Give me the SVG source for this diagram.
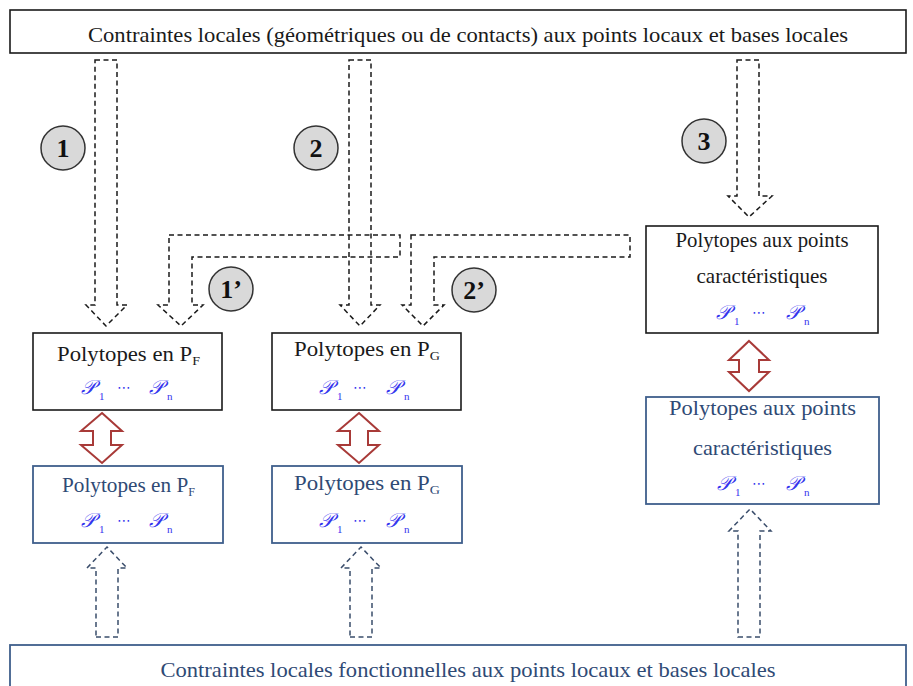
<svg xmlns="http://www.w3.org/2000/svg" width="913" height="686" viewBox="0 0 913 686">
<defs>
<style>
.serif{font-family:"Liberation Serif","DejaVu Serif",serif;}
.title{font-size:21px;fill:#1a1a1a;}
.btitle{font-size:21px;fill:#2f4a75;}
.math{font-family:"DejaVu Serif","DejaVu Sans","Noto Sans",serif;font-style:italic;font-size:20px;fill:#3535ee;}
.sub{font-family:"Liberation Serif",serif;font-size:11px;fill:#3535ee;}
.dots{font-family:"DejaVu Sans",sans-serif;font-size:14px;fill:#3535ee;}
.kbox{fill:#fff;stroke:#1a1a1a;stroke-width:1.6;}
.bbox{fill:#fff;stroke:#3f5f8c;stroke-width:1.8;}
.darr{fill:none;stroke:#1a1a1a;stroke-width:1.5;stroke-dasharray:5 3.5;stroke-linejoin:miter;}
.uarr{fill:none;stroke:#3a4d6b;stroke-width:1.5;stroke-dasharray:5 3.5;}
.rarr{fill:#fff;stroke:#a83a38;stroke-width:2;}
.circ{fill:#d9d9d9;stroke:#333;stroke-width:1.5;}
.num{font-family:"Liberation Serif",serif;font-weight:bold;font-size:26px;fill:#111;text-anchor:middle;}
</style>
</defs>

<g id="top-box">
<rect class="kbox" x="10" y="10" width="896" height="43"/>
<text class="serif title" x="468" y="42" text-anchor="middle" textLength="760" lengthAdjust="spacingAndGlyphs">Contraintes locales (géométriques ou de contacts) aux points locaux et bases locales</text>
</g>

<g id="connectors">
<polygon class="darr" points="95,60 117,60 117,305 127,305 106,326 86,305 95,305"/>
<polygon class="darr" points="169,235 400,235 400,257 192,257 192,305 203,305 181,326 158,305 169,305"/>
<polygon class="darr" points="349,60 371,60 371,305 380,305 360,326 340,305 349,305"/>
<polygon class="darr" points="411,235 630,235 630,257 434,257 434,305 444,305 423,326 402,305 411,305"/>
<polygon class="darr" points="737,60 759,60 759,196 772,196 749,217 728,196 737,196"/>
<polygon class="uarr" points="96,637 118,637 118,568 127,568 107,547 87,568 96,568"/>
<polygon class="uarr" points="350,637 372,637 372,568 381,568 361,547 341,568 350,568"/>
<polygon class="uarr" points="738,637 760,637 760,531 771,531 750,509 729,531 738,531"/>
<polygon class="rarr" points="102,413 122,431 111,431 111,445 122,445 102,463 81,445 93,445 93,431 81,431"/>
<polygon class="rarr" points="359,413 379,431 368,431 368,445 379,445 359,463 338,445 350,445 350,431 338,431"/>
<polygon class="rarr" points="749,341 769,360 759,360 759,372 769,372 749,391 729,372 739,372 739,360 729,360"/>
</g>

<g id="label-1"><circle class="circ" cx="63" cy="148" r="22"/><text class="num" x="63" y="157">1</text></g>
<g id="label-2"><circle class="circ" cx="316" cy="148" r="22"/><text class="num" x="316" y="157">2</text></g>
<g id="label-3"><circle class="circ" cx="704" cy="141" r="22"/><text class="num" x="704" y="150">3</text></g>
<g id="label-1p"><circle class="circ" cx="231" cy="289" r="22"/><text class="num" x="231" y="298">1’</text></g>
<g id="label-2p"><circle class="circ" cx="474" cy="290" r="22"/><text class="num" x="474" y="299">2’</text></g>

<g id="pf-black">
<rect class="kbox" x="33" y="333" width="189" height="77"/>
<text class="serif title" x="57" y="361" textLength="143" lengthAdjust="spacingAndGlyphs">Polytopes en P<tspan font-size="13" dy="4">F</tspan></text>
<text class="math" x="81" y="394">𝒫</text><text class="sub" x="99" y="400">1</text>
<text class="dots" x="117" y="392">⋯</text>
<text class="math" x="149" y="394">𝒫</text><text class="sub" x="167" y="400">n</text>
</g>

<g id="pg-black">
<rect class="kbox" x="272" y="333" width="189" height="77"/>
<text class="serif title" x="294" y="356" textLength="146" lengthAdjust="spacingAndGlyphs">Polytopes en P<tspan font-size="13" dy="4">G</tspan></text>
<text class="math" x="319" y="394">𝒫</text><text class="sub" x="337" y="400">1</text>
<text class="dots" x="353" y="392">⋯</text>
<text class="math" x="386" y="394">𝒫</text><text class="sub" x="404" y="400">n</text>
</g>

<g id="pc-black">
<rect class="kbox" x="646" y="226" width="232" height="107"/>
<text class="serif title" x="762" y="247" text-anchor="middle" textLength="173" lengthAdjust="spacingAndGlyphs">Polytopes aux points</text>
<text class="serif title" x="762" y="283" text-anchor="middle" textLength="131" lengthAdjust="spacingAndGlyphs">caractéristiques</text>
<text class="math" x="716" y="319">𝒫</text><text class="sub" x="734" y="325">1</text>
<text class="dots" x="752" y="317">⋯</text>
<text class="math" x="786" y="319">𝒫</text><text class="sub" x="804" y="325">n</text>
</g>

<g id="pf-blue">
<rect class="bbox" x="33" y="466" width="190" height="77"/>
<text class="serif btitle" x="62" y="492" textLength="133" lengthAdjust="spacingAndGlyphs">Polytopes en P<tspan font-size="12" dy="4">F</tspan></text>
<text class="math" x="81" y="527">𝒫</text><text class="sub" x="99" y="533">1</text>
<text class="dots" x="117" y="525">⋯</text>
<text class="math" x="149" y="527">𝒫</text><text class="sub" x="167" y="533">n</text>
</g>

<g id="pg-blue">
<rect class="bbox" x="272" y="466" width="190" height="77"/>
<text class="serif btitle" x="294" y="490" textLength="146" lengthAdjust="spacingAndGlyphs">Polytopes en P<tspan font-size="13" dy="4">G</tspan></text>
<text class="math" x="319" y="527">𝒫</text><text class="sub" x="337" y="533">1</text>
<text class="dots" x="353" y="525">⋯</text>
<text class="math" x="386" y="527">𝒫</text><text class="sub" x="404" y="533">n</text>
</g>

<g id="pc-blue">
<rect class="bbox" x="646" y="397" width="233" height="107"/>
<text class="serif btitle" x="762.5" y="415" text-anchor="middle" textLength="187" lengthAdjust="spacingAndGlyphs">Polytopes aux points</text>
<text class="serif btitle" x="762.5" y="455" text-anchor="middle" textLength="139" lengthAdjust="spacingAndGlyphs">caractéristiques</text>
<text class="math" x="717" y="490">𝒫</text><text class="sub" x="735" y="496">1</text>
<text class="dots" x="752" y="488">⋯</text>
<text class="math" x="786" y="490">𝒫</text><text class="sub" x="804" y="496">n</text>
</g>

<g id="bottom-box">
<rect class="bbox" x="10" y="645" width="896" height="50"/>
<text class="serif btitle" x="468" y="677" text-anchor="middle" textLength="615" lengthAdjust="spacingAndGlyphs">Contraintes locales fonctionnelles aux points locaux et bases locales</text>
</g>
</svg>
